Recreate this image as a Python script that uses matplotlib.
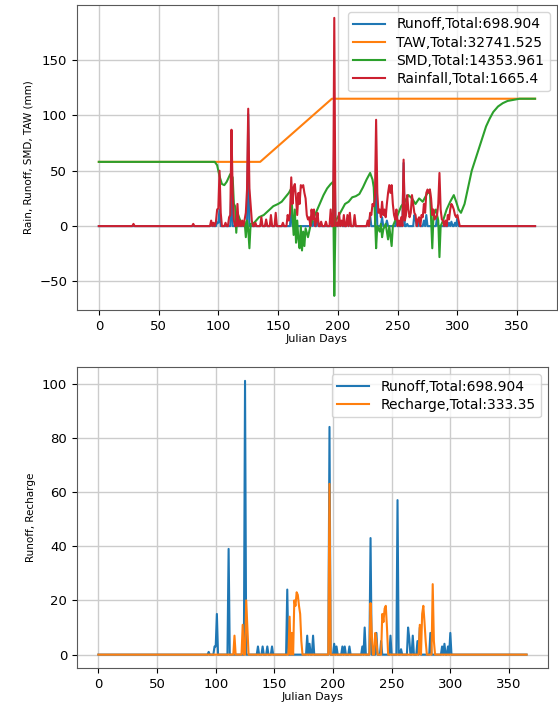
import numpy as np
import matplotlib
matplotlib.use("Agg")
import matplotlib.pyplot as plt

# daily rainfall events (day, mm)
rain_days = [29, 79, 94, 96, 98, 99, 100, 101, 102, 106, 109, 110, 111, 112, 113,
             116, 118, 120, 122, 123, 124, 125, 126, 127, 128, 131, 136, 140, 144,
             148, 154, 158, 159, 160, 161, 162, 163, 164, 165, 166, 167, 168, 169,
             170, 171, 172, 173, 174, 175, 176, 178, 179, 180, 182, 183, 186, 190,
             194, 197, 199, 201, 203, 205, 208, 210, 214,
             225, 227, 228, 229, 230, 231, 232, 233, 234, 235, 236, 237, 238, 239,
             240, 241, 242, 243, 244, 245, 246, 247, 248, 249, 251, 253, 255, 256,
             257, 258, 259, 260, 261, 262, 263, 264, 265, 267, 268, 270, 271, 272,
             273, 274, 275, 276, 277, 278, 279, 280, 281, 282, 283, 284, 285, 286,
             287, 288, 290, 292, 293, 294, 295, 296, 297, 298, 299, 300, 301]
rain_mm = [2, 2, 5, 3, 4, 15, 16, 50, 12, 3, 8, 10, 87, 30, 5,
           20, 5, 5, 6, 12, 33, 106, 34, 20, 5, 3, 8, 6, 10,
           12, 3, 10, 5, 12, 44, 20, 35, 38, 25, 10, 30, 20, 37,
           35, 37, 30, 25, 10, 6, 8, 15, 6, 15, 5, 12, 4, 4,
           15, 188, 3, 12, 5, 10, 10, 12, 10,
           5, 12, 10, 20, 18, 25, 96, 30, 12, 15, 8, 22, 10, 15,
           8, 20, 30, 37, 30, 37, 20, 10, 6, 15, 5, 8, 60, 5,
           10, 28, 15, 8, 12, 28, 20, 12, 10, 6, 8, 10, 8, 20,
           12, 30, 33, 30, 33, 25, 10, 15, 6, 8, 10, 20, 48, 15,
           6, 5, 5, 10, 6, 15, 20, 18, 15, 10, 8, 10, 5]

# runoff events (day, mm)
runoff_days = [94, 99, 100, 101, 111, 125, 136, 140, 144, 148, 161, 178, 180, 183,
               197, 201, 203, 208, 210, 214, 225, 227, 232, 237, 241, 249, 255, 258,
               264, 265, 268, 272, 274, 283, 293, 295, 298, 300]
runoff_mm = [1, 3, 3, 15, 39, 101, 3, 3, 3, 3, 24, 7, 4, 7,
             84, 4, 3, 3, 3, 3, 3, 10, 43, 8, 5, 7, 57, 2,
             10, 6, 7, 5, 10, 8, 3, 4, 3, 8]

# recharge events (day, mm)
recharge_days = [116, 123, 126, 127, 163, 165, 167, 168, 169, 170, 171, 172, 173,
                 197, 232, 233, 236, 237, 242, 243, 244, 245, 246, 274, 276, 277,
                 278, 279, 285, 286]
recharge_mm = [7, 11, 20, 10, 14, 8, 20, 18, 23, 22, 18, 15, 5,
               63, 19, 8, 8, 5, 15, 12, 17, 18, 10, 11, 15, 18,
               12, 5, 26, 5]

# total available water, break points
taw_days = [0, 135, 195, 365]
taw_mm = [58, 58, 115, 115]

# soil moisture deficit
smd_days = [0, 97, 99, 101, 103, 105, 107, 110, 112, 113, 114, 115, 116, 118, 120,
            122, 123, 124, 125, 126, 127, 130, 134, 138, 142, 146, 150, 153, 156,
            159, 161, 162, 163, 164, 165, 166, 167, 168, 169, 170, 171, 172, 173,
            175, 177, 180, 184, 188, 191, 194, 196, 197, 198, 200, 203, 206, 209,
            212, 215, 218, 221, 224, 227, 229, 230, 231, 232, 233, 235, 236, 237,
            238, 240, 242, 243, 245, 246, 248, 250, 253, 256, 259, 262, 265, 268,
            271, 274, 277, 279, 280, 282, 284, 285, 286, 288, 291, 294, 297, 299,
            301, 303, 306, 309, 312, 315, 318, 321, 324, 327, 330, 334, 338, 342,
            347, 352, 365]
smd_mm = [58, 58, 55, 45, 38, 37, 40, 47, 44, 20, 18, -6, 12, 6, 2,
          4, -10, 5, -3, -20, 2, 3, 8, 10, 14, 18, 20, 22, 26,
          30, 34, 10, -8, 15, -15, 5, -12, -20, 0, -22, -5, -18, -2,
          -10, 0, 8, 18, 28, 34, 38, 40, -63, 5, 8, 14, 20, 22,
          26, 27, 29, 35, 42, 48, 42, 35, 10, -20, 0, -5, 2, -10,
          -3, 2, -12, 0, -18, 0, 5, 10, 18, 22, 28, 25, 20, 25,
          22, 28, 33, -20, 10, 15, 5, -28, 0, 5, 15, 22, 28, 22,
          15, 12, 20, 35, 50, 60, 70, 80, 90, 97, 103, 108, 111, 113,
          114, 115, 115]

days = np.arange(0, 366)
rain = np.zeros(len(days))
rain[rain_days] = rain_mm
runoff = np.zeros(len(days))
runoff[runoff_days] = runoff_mm
recharge = np.zeros(len(days))
recharge[recharge_days] = recharge_mm

fig = plt.figure(figsize=(5.58, 7.02), dpi=100)
ax1 = fig.add_axes([0.138, 0.558, 0.860, 0.435])
ax2 = fig.add_axes([0.138, 0.048, 0.844, 0.429])

# top chart
ax1.plot(days, runoff, color="tab:blue", lw=1.5, label="Runoff,Total:698.904")
ax1.plot(taw_days, taw_mm, color="tab:orange", lw=1.5, label="TAW,Total:32741.525")
ax1.plot(smd_days, smd_mm, color="tab:green", lw=1.5, label="SMD,Total:14353.961")
ax1.plot(days, rain, color="#cc2030", lw=1.5, label="Rainfall,Total:1665.4")
ax1.set_ylim(-76, 199.7)
ax1.set_xlabel("Julian Days", fontsize=8, labelpad=1)
ax1.set_ylabel("Rain, Runoff, SMD, TAW (mm)", fontsize=7.5)
ax1.legend(loc="upper right", fontsize=10, handlelength=2.3, labelspacing=0.3)

# bottom chart
ax2.plot(days, runoff, color="tab:blue", lw=1.5, label="Runoff,Total:698.904")
ax2.plot(days, recharge, color="tab:orange", lw=1.5, label="Recharge,Total:333.35")
ax2.set_xlabel("Julian Days", fontsize=8, labelpad=1)
ax2.set_ylabel("Runoff, Recharge", fontsize=7.5)
ax2.legend(loc="upper right", fontsize=10, handlelength=2.3, labelspacing=0.3)

for ax in (ax1, ax2):
    ax.grid(True, color="0.8", lw=1)
    ax.set_xticks(range(0, 351, 50))
    ax.tick_params(labelsize=9.5)
    for s in ax.spines.values():
        s.set_color("0.35")

plt.savefig("out.png", dpi=100)
